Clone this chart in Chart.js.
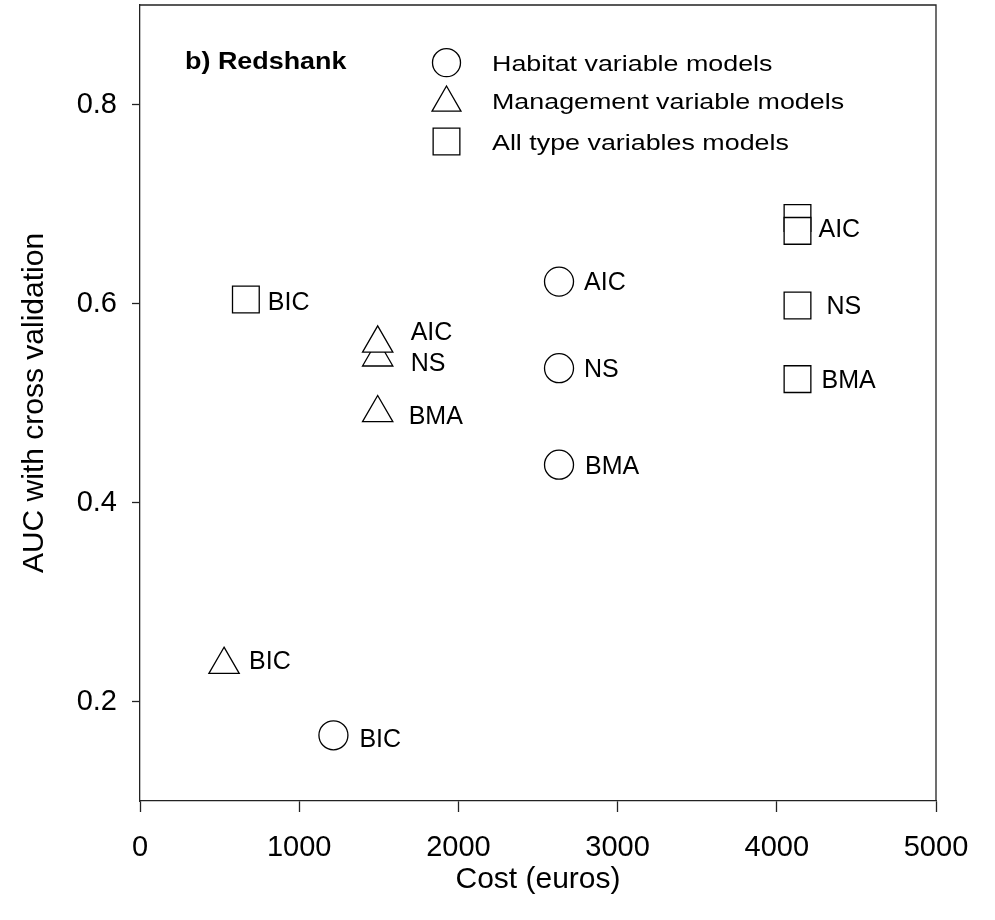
<!DOCTYPE html>
<html>
<head>
<meta charset="utf-8">
<title>Redshank AUC vs cost</title>
<script src="https://cdn.jsdelivr.net/npm/chart.js@4.4.0/dist/chart.umd.min.js"></script>
<style>
  html, body { margin: 0; padding: 0; background: #fff; }
</style>
</head>
<body>
<canvas id="aucChart" width="995" height="920"></canvas>
<script>
// habitat variable models (circles)
const habitatCost = [1215, 2632, 2632, 2632];
const habitatAuc = [0.166, 0.438, 0.535, 0.622];
const habitatLabels = ["BIC", "BMA", "NS", "AIC"];

// management variable models (triangles)
const mgmtCost = [528, 1493, 1493, 1493];
const mgmtAuc = [0.237, 0.490, 0.546, 0.560];
const mgmtLabels = ["BIC", "BMA", "NS", "AIC"];

// all type variables models (squares)
const allCost = [665, 4130, 4130, 4130, 4130];
const allAuc = [0.604, 0.524, 0.598, 0.686, 0.673];
const allLabels = ["BIC", "BMA", "NS", "", "AIC"];

const xTicks = [0, 1000, 2000, 3000, 4000, 5000];
const yTicks = [0.2, 0.4, 0.6, 0.8];

const legendNames = ["Habitat variable models", "Management variable models", "All type variables models"];
const panelTitle = "b) Redshank";

const FONT = "'Liberation Sans', Arial, sans-serif";
const INK = "#000";
const AXIS = "#222";

function toPoints(xs, ys) {
    return xs.map((x, i) => ({ x: x, y: ys[i] }));
}

// label offsets from each marker centre (dx, dy in px)
const labelNudge = {
    circle: { BIC: [26, 3], BMA: [26, 0], NS: [25, 0], AIC: [25, -1] },
    triangle: { BIC: [25, -5], BMA: [31, 2], NS: [33, 5], AIC: [33, -12] },
    rect: { BIC: [22, 2], BMA: [24, 0], NS: [29, 0], AIC: [21, -3] }
};

// text to the right of each marker
const pointLabels = {
    id: "pointLabels",
    afterDatasetsDraw(chart) {
        const ctx = chart.ctx;
        ctx.save();
        ctx.fillStyle = INK;
        ctx.font = "25px " + FONT;
        ctx.textAlign = "left";
        ctx.textBaseline = "alphabetic";
        chart.data.datasets.forEach((ds, di) => {
            const meta = chart.getDatasetMeta(di);
            const nudge = labelNudge[ds.pointStyle];
            meta.data.forEach((el, i) => {
                const txt = ds.labels[i];
                if (!txt) return;
                const off = nudge[txt] || [25, 0];
                ctx.fillText(txt, el.x + off[0], el.y + off[1] + 25 * 0.358);
            });
        });
        ctx.restore();
    }
};

// top/right frame, legend block and panel title inside the plot
const frameAndKey = {
    id: "frameAndKey",
    afterDraw(chart) {
        const ctx = chart.ctx;
        const a = chart.chartArea;
        ctx.save();
        ctx.strokeStyle = AXIS;
        ctx.lineWidth = 1.3;
        ctx.beginPath();
        ctx.moveTo(a.left, a.top);
        ctx.lineTo(a.right, a.top);
        ctx.lineTo(a.right, a.bottom);
        ctx.stroke();

        // legend symbols
        const styles = ["circle", "triangle", "rect"];
        const radii = [14, 16.7, 18.9];
        const symY = [62.7, 102.7, 141.5];
        const textY = [63, 101, 142];
        ctx.fillStyle = "#fff";
        ctx.strokeStyle = INK;
        ctx.lineWidth = 1.3;
        styles.forEach((st, i) => {
            Chart.helpers.drawPoint(ctx, { pointStyle: st, radius: radii[i], rotation: 0, borderWidth: 1.3 }, 446.5, symY[i]);
        });

        // legend text (slightly widened face)
        ctx.fillStyle = INK;
        ctx.textAlign = "left";
        ctx.textBaseline = "alphabetic";
        ctx.font = "22px " + FONT;
        legendNames.forEach((name, i) => {
            ctx.save();
            ctx.translate(492, textY[i] + 22 * 0.358);
            ctx.scale(1.22, 1);
            ctx.fillText(name, 0, 0);
            ctx.restore();
        });

        ctx.font = "bold 23px " + FONT;
        ctx.save();
        ctx.translate(185, 61 + 23 * 0.358);
        ctx.scale(1.17, 1);
        ctx.fillText(panelTitle, 0, 0);
        ctx.restore();
        ctx.restore();
    }
};

// fixed axis boxes so the plot frame lands where it should
function fixBox(size, horizontal) {
    return (axis) => {
        if (horizontal) axis.height = size; else axis.width = size;
        axis.paddingTop = 0;
        axis.paddingBottom = 0;
        axis.paddingLeft = 0;
        axis.paddingRight = 0;
    };
}

const markerBase = {
    backgroundColor: "#fff",
    borderColor: INK,
    borderWidth: 1.3,
    showLine: false,
    pointHoverRadius: 0
};

new Chart(document.getElementById("aucChart"), {
    type: "scatter",
    data: {
        datasets: [
            Object.assign({}, markerBase, {
                label: legendNames[0],
                data: toPoints(habitatCost, habitatAuc),
                labels: habitatLabels,
                pointStyle: "circle",
                pointRadius: 14.5
            }),
            Object.assign({}, markerBase, {
                label: legendNames[1],
                data: toPoints(mgmtCost, mgmtAuc),
                labels: mgmtLabels,
                pointStyle: "triangle",
                pointRadius: 17.5
            }),
            Object.assign({}, markerBase, {
                label: legendNames[2],
                data: toPoints(allCost, allAuc),
                labels: allLabels,
                pointStyle: "rect",
                pointRadius: 18.9
            })
        ]
    },
    options: {
        responsive: false,
        animation: false,
        devicePixelRatio: 1,
        layout: { autoPadding: false, padding: { top: 5, right: 59, left: 0, bottom: 0 } },
        plugins: {
            legend: { display: false },
            tooltip: { enabled: false }
        },
        scales: {
            x: {
                type: "linear",
                position: "bottom",
                min: 0,
                max: 5000,
                afterBuildTicks: (axis) => { axis.ticks = xTicks.map(v => ({ value: v })); },
                afterFit: fixBox(119, true),
                ticks: {
                    color: INK,
                    font: { family: FONT, size: 29 },
                    padding: 19,
                    maxRotation: 0,
                    callback: (v) => String(v)
                },
                grid: {
                    drawOnChartArea: false,
                    drawTicks: true,
                    tickLength: 11,
                    tickColor: AXIS,
                    tickWidth: 1.3
                },
                border: { display: true, color: AXIS, width: 1.3 },
                title: {
                    display: true,
                    text: "Cost (euros)",
                    color: INK,
                    font: { family: FONT, size: 30 },
                    padding: { top: 0, bottom: 22 }
                }
            },
            y: {
                type: "linear",
                position: "left",
                min: 0.1,
                max: 0.9,
                afterBuildTicks: (axis) => { axis.ticks = yTicks.map(v => ({ value: v })); },
                afterFit: fixBox(140, false),
                ticks: {
                    color: INK,
                    font: { family: FONT, size: 29 },
                    padding: 15,
                    callback: (v) => v.toFixed(1)
                },
                grid: {
                    drawOnChartArea: false,
                    drawTicks: true,
                    tickLength: 8,
                    tickColor: AXIS,
                    tickWidth: 1.3
                },
                border: { display: true, color: AXIS, width: 1.3 },
                title: {
                    display: true,
                    text: "AUC with cross validation",
                    color: INK,
                    font: { family: FONT, size: 30 },
                    padding: { top: 17, bottom: 0 }
                }
            }
        }
    },
    plugins: [pointLabels, frameAndKey]
});
</script>
</body>
</html>
